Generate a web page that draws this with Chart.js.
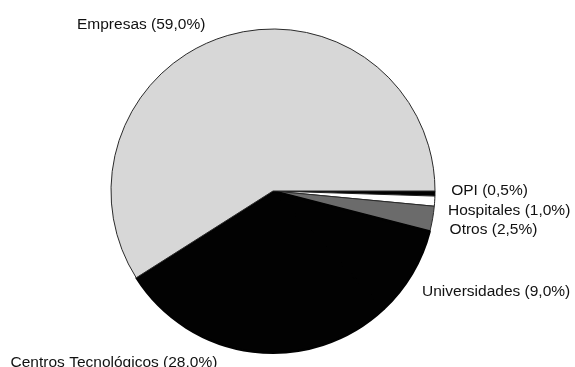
<!DOCTYPE html>
<html>
<head>
<meta charset="utf-8">
<script src="https://cdn.jsdelivr.net/npm/chart.js@4/dist/chart.umd.min.js"></script>
<style>
  html, body { margin: 0; padding: 0; background: #ffffff; }
  #wrap { width: 575px; height: 367px; }
</style>
</head>
<body>
<div id="wrap"><canvas id="pie" width="575" height="367"></canvas></div>
<script>
// Distribución por tipo de entidad (%), en sentido horario desde las 3 en punto
const categories = ['OPI', 'Hospitales', 'Otros', 'Universidades', 'Centros Tecnológicos', 'Empresas'];
const shares = [0.5, 1.0, 2.5, 9.0, 28.0, 59.0];
const sliceColors = ['#020202', '#ffffff', '#6b6b6b', '#020202', '#020202', '#d7d7d7'];
const edgeColors = ['#020202', '#222222', '#2a2a2a', '#020202', '#020202', '#2a2a2a'];
const edgeWidths = [1, 1, 1, 2, 2, 1];

// Label anchors (left edge, vertical middle) as offsets from the pie centre in radii
const labelOffsets = [
  [1.10, -0.00],
  [1.08, 0.12],
  [1.09, 0.24],
  [0.92, 0.62],
  [-1.62, 1.06],
  [-1.21, -1.025]
];

function fmt(v) {
  return v.toFixed(1).replace('.', ',');
}

const sliceLabels = {
  id: 'sliceLabels',
  afterDraw(chart) {
    const arc = chart.getDatasetMeta(0).data[0];
    const cx = arc.x, cy = arc.y, r = arc.outerRadius;
    const ctx = chart.ctx;
    ctx.save();
    ctx.fillStyle = '#111111';
    ctx.font = '15.5px "Liberation Sans", Arial, sans-serif';
    ctx.textBaseline = 'middle';
    ctx.textAlign = 'left';
    categories.forEach((name, i) => {
      const [ox, oy] = labelOffsets[i];
      ctx.fillText(name + ' (' + fmt(shares[i]) + '%)', cx + ox * r, cy + oy * r);
    });
    ctx.restore();
  }
};

new Chart(document.getElementById('pie'), {
  type: 'pie',
  data: {
    labels: categories,
    datasets: [{
      data: shares,
      backgroundColor: sliceColors,
      borderColor: edgeColors,
      borderWidth: edgeWidths
    }]
  },
  options: {
    responsive: false,
    animation: false,
    rotation: 90,
    layout: { padding: { left: 110, right: 139, top: 28, bottom: 13 } },
    plugins: {
      legend: { display: false },
      tooltip: { enabled: false }
    }
  },
  plugins: [sliceLabels]
});
</script>
</body>
</html>
